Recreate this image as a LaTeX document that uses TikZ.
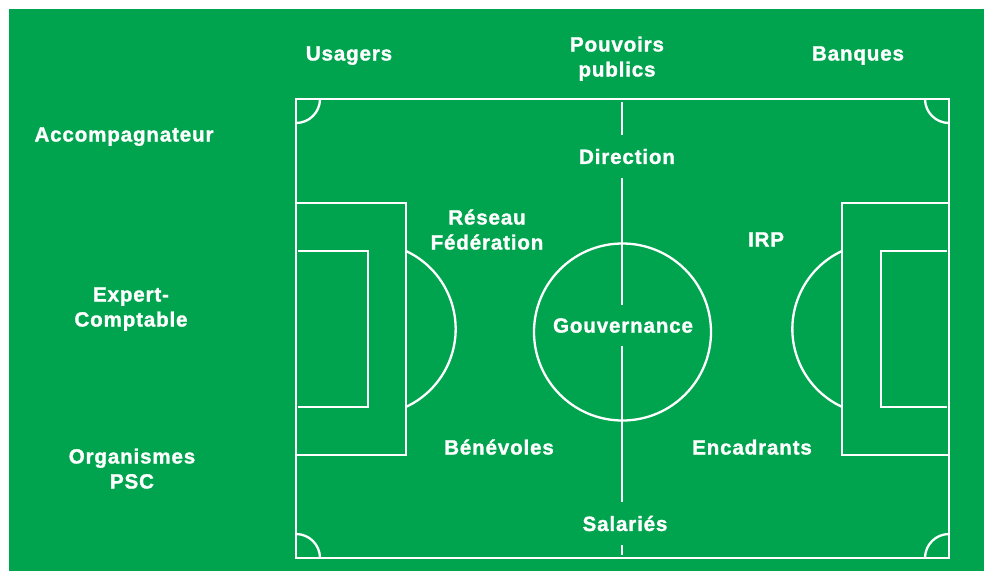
\documentclass[tikz,border=0pt]{standalone}
\usepackage{fontspec}
\newfontfamily\pitchfont[LetterSpace=4, FakeBold=1.3]{Liberation Sans Bold}
\usetikzlibrary{positioning,calc}
\definecolor{pitch}{RGB}{0,164,79}

\begin{document}
\begin{tikzpicture}[x=1pt, y=-1pt, font=\pitchfont\fontsize{20.6}{25}\selectfont]
    \tikzset{
      chalk/.style={draw=white, line width=2.3pt},
      lbl/.style={text=white, align=center, inner sep=0pt, anchor=base},
      gap/.style={text=white, inner sep=0pt, minimum height=43pt},
    }
    \useasboundingbox (0,0) rectangle (984,571);
    \fill[pitch] (9,9) rectangle (984,571);

    % field
    \draw[chalk] (296,99) rectangle (949,558);
    \draw[chalk] (622.5,332) circle[radius=88.5];
    \draw[chalk] (320,99) arc[start angle=0, end angle=90, radius=24];
    \draw[chalk] (925,99) arc[start angle=180, end angle=90, radius=24];
    \draw[chalk] (320,558) arc[start angle=0, end angle=-90, radius=24];
    \draw[chalk] (925,558) arc[start angle=180, end angle=270, radius=24];
    % left goal
    \draw[chalk] (296,203) -- (406,203) -- (406,455) -- (296,455);
    \draw[chalk] (298,251) -- (368,251) -- (368,407) -- (298,407);
    \draw[chalk] (406,251) arc[start angle=-65, end angle=65, radius=86];
    % right goal
    \draw[chalk] (949,203) -- (842,203) -- (842,455) -- (949,455);
    \draw[chalk] (947,251) -- (881,251) -- (881,407) -- (947,407);
    \draw[chalk] (842,251) arc[start angle=245, end angle=115, radius=86];

    % center line, broken by the labels
    \node[gap] (dir) at (627,156.5) {Direction};
    \node[gap, minimum height=41pt] (gov) at (623,325.5) {Gouvernance};
    \node[gap] (sal) at (625,523.5) {Salariés};
    \coordinate (mtop) at (622,102);
    \coordinate (mbot) at (622,555);
    \draw[chalk] (mtop) -- (mtop |- dir.north)
                 (mtop |- dir.south) -- (mtop |- gov.north)
                 (mtop |- gov.south) -- (mtop |- sal.north)
                 (mtop |- sal.south) -- (mbot);

    % actors
    \node[lbl] (usa) at (349,60.5) {Usagers};
    \node[lbl] (pou) at (617,76.5) {Pouvoirs\\publics};
    \node[lbl] (ban) at (858,60.5) {Banques};
    \node[lbl] (acc) at (124,141.5) {Accompagnateur};
    \node[lbl] (exp) at (131,326.5) {Expert-\\Comptable};
    \node[lbl] (org) at (132,488.5) {Organismes\\PSC};
    \node[lbl] (res) at (487,249.5) {Réseau\\Fédération};
    \node[lbl] (irp) at (766,246.5) {IRP};
    \node[lbl] (ben) at (499,454.5) {Bénévoles};
    \node[lbl] (enc) at (752,454.5) {Encadrants};
  \end{tikzpicture}
\end{document}
